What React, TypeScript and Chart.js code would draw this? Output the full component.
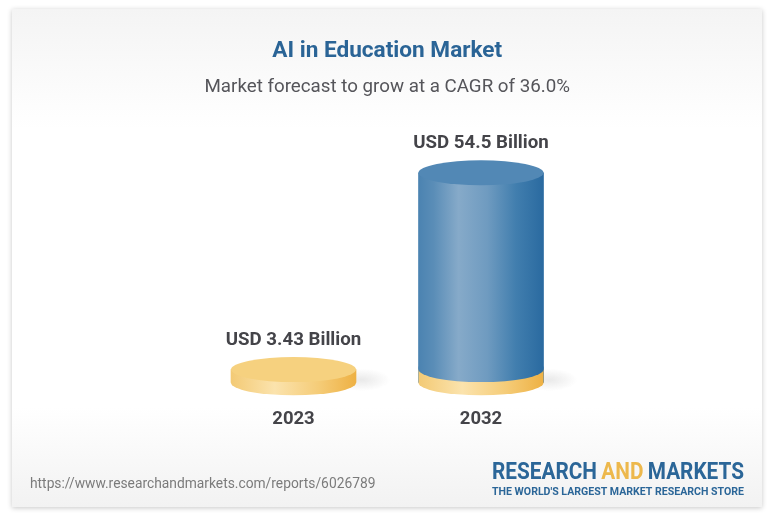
import React, { useEffect, useRef } from "react";
import { Chart, registerables } from "chart.js";

Chart.register(...registerables);

const categories = ["2023", "2032"];
const marketSize = [3.43, 54.5];
const baseBand = [3.43, 3.43];
const valueLabels = ["USD 3.43 Billion", "USD 54.5 Billion"];
const titleText = "AI in Education Market";
const subtitleText = "Market forecast to grow at a CAGR of 36.0%";
const sourceUrl = "https://www.researchandmarkets.com/reports/6026789";
const logoWords = ["RESEARCH", "AND", "MARKETS"];
const logoTagline = "THE WORLD'S LARGEST MARKET RESEARCH STORE";

const FONT = "Roboto, sans-serif";
const RY = 12.5;

function hGrad(ctx: CanvasRenderingContext2D, x0: number, x1: number, stops: [number, string][]) {
  const g = ctx.createLinearGradient(x0, 0, x1, 0);
  stops.forEach(([p, c]) => g.addColorStop(p, c));
  return g;
}
const blueStops: [number, string][] = [
  [0, "#4b83b1"],
  [0.12, "#5a8db7"],
  [0.32, "#86aac9"],
  [0.55, "#6f9bc0"],
  [0.78, "#417eae"],
  [1, "#2a6aa0"],
];
const goldStops: [number, string][] = [
  [0, "#f3ca75"],
  [0.35, "#fbe3ad"],
  [0.7, "#f5cc78"],
  [1, "#eeb144"],
];

const cylinderPlugin = {
  id: "cylinder",
  beforeDatasetsDraw(chart: any) {
    const { ctx } = chart;
    chart.getDatasetMeta(0).data.forEach((bar: any) => {
      const half = bar.width / 2;
      const cx = bar.x + half + 6;
      const cy = bar.base - 3;
      ctx.save();
      ctx.translate(cx, cy);
      ctx.scale(1, 0.4);
      const g = ctx.createRadialGradient(0, 0, 0, 0, 0, 28);
      g.addColorStop(0, "rgba(120,120,120,0.16)");
      g.addColorStop(1, "rgba(120,120,120,0)");
      ctx.fillStyle = g;
      ctx.beginPath();
      ctx.arc(0, 0, 28, 0, Math.PI * 2);
      ctx.fill();
      ctx.restore();
    });
  },
  afterDatasetsDraw(chart: any) {
    const { ctx, scales } = chart;
    const y = scales.y;
    chart.getDatasetMeta(0).data.forEach((bar: any, i: number) => {
      const half = bar.width / 2;
      const x0 = bar.x - half;
      const x1 = bar.x + half;
      const base = y.getPixelForValue(0);
      const bandTop = y.getPixelForValue(baseBand[i]);
      const top = y.getPixelForValue(marketSize[i]);
      const gold = hGrad(ctx, x0, x1, goldStops);
      const blue = hGrad(ctx, x0, x1, blueStops);
      // gold wall, rounded at the floor
      ctx.fillStyle = gold;
      ctx.beginPath();
      ctx.moveTo(x0, bandTop);
      ctx.lineTo(x0, base);
      ctx.ellipse(bar.x, base, half, RY, 0, Math.PI, 0, true);
      ctx.lineTo(x1, bandTop);
      ctx.closePath();
      ctx.fill();
      if (marketSize[i] > baseBand[i]) {
        ctx.fillStyle = blue;
        ctx.beginPath();
        ctx.moveTo(x1, bandTop - 3);
        ctx.lineTo(x1, bandTop);
        ctx.ellipse(bar.x, bandTop, half, RY, 0, 0, Math.PI);
        ctx.lineTo(x0, bandTop - 3);
        ctx.closePath();
        ctx.fill();
        ctx.fillStyle = "#5288b5";
      } else {
        ctx.fillStyle = "#f6d17f";
      }
      ctx.beginPath();
      ctx.ellipse(bar.x, top, half, RY, 0, 0, Math.PI * 2);
      ctx.fill();
      ctx.fillStyle = "#444449";
      ctx.font = `700 18.7px ${FONT}`;
      ctx.textAlign = "center";
      ctx.textBaseline = "middle";
      ctx.fillText(valueLabels[i], bar.x, top - RY - 17);
    });
  },
  afterDraw(chart: any) {
    const { ctx } = chart;
    ctx.save();
    ctx.textBaseline = "middle";
    ctx.textAlign = "left";
    ctx.fillStyle = "#7b7b7b";
    ctx.font = `400 13.8px ${FONT}`;
    ctx.fillText(sourceUrl, 30, 485);

    // logo: wordmark squeezed into its measured width
    ctx.font = `700 24px ${FONT}`;
    const gap = 5;
    const widths = logoWords.map((w) => ctx.measureText(w).width);
    const total = widths.reduce((a, b) => a + b, 0) + gap * 2;
    const sx = 252 / total;
    ctx.save();
    ctx.translate(492, 473);
    ctx.scale(sx, 1);
    let cursor = 0;
    logoWords.forEach((w, i) => {
      ctx.fillStyle = i === 1 ? "#edb84c" : "#2b6698";
      ctx.fillText(w, cursor, 0);
      cursor += widths[i] + gap;
    });
    ctx.restore();
    ctx.font = `700 10.5px ${FONT}`;
    const tw = ctx.measureText(logoTagline).width;
    ctx.save();
    ctx.translate(492, 492);
    ctx.scale(252 / tw, 1);
    ctx.fillStyle = "#2b6698";
    ctx.fillText(logoTagline, 0, 0);
    ctx.restore();
    ctx.restore();
  },
};

export default function App() {
  const ref = useRef<HTMLCanvasElement>(null);
  useEffect(() => {
    if (!ref.current) return;
    const chart = new Chart(ref.current, {
      type: "bar",
      data: {
        labels: categories,
        datasets: [
          {
            label: "Market size",
            data: marketSize,
            barThickness: 125,
            borderWidth: 0,
            backgroundColor: (c: any) => {
              const x = c.chart.scales.x;
              const px = x && c.dataIndex !== undefined ? x.getPixelForValue(c.dataIndex) : NaN;
              if (!Number.isFinite(px)) return "#4b83b1";
              return hGrad(
                c.chart.ctx,
                px - 62.5,
                px + 62.5,
                marketSize[c.dataIndex] > baseBand[c.dataIndex] ? blueStops : goldStops
              );
            },
          },
        ],
      },
      options: {
        responsive: false,
        animation: false,
        layout: { padding: { left: 199.75, right: 201.25, top: 0, bottom: 70 } },
        plugins: {
          legend: { display: false },
          tooltip: { enabled: false },
          title: {
            display: true,
            text: titleText,
            color: "#2a6496",
            font: { family: FONT, size: 22.6, weight: "bold" },
            padding: { top: 38, bottom: 11 },
          },
          subtitle: {
            display: true,
            text: subtitleText,
            color: "#55555a",
            font: { family: FONT, size: 18.75, weight: "normal" },
            padding: { top: 0, bottom: 53 },
          },
        },
        scales: {
          x: {
            grid: { display: false },
            border: { display: false },
            ticks: {
              color: "#444449",
              padding: 17,
              maxRotation: 0,
              font: { family: FONT, size: 18.5, weight: "bold" },
            },
          },
          y: { display: false, min: 0, max: 60 },
        },
      },
      plugins: [cylinderPlugin],
    } as any);
    return () => chart.destroy();
  }, []);
  return (
    <div style={{ position: "fixed", inset: 0, background: "#fff", overflow: "hidden" }}>
      <div
        style={{
          position: "absolute",
          left: 12,
          top: 9,
          width: 750,
          height: 498,
          boxShadow: "0 1px 5px rgba(0,0,0,0.22)",
          background:
            "linear-gradient(to bottom, #f4f4f4 0%, #ffffff 24%, #ffffff 80%, #f2f2f2 100%)",
        }}
      />
      <canvas
        ref={ref}
        width={776}
        height={517}
        style={{ position: "absolute", left: 0, top: 0, filter: "blur(0.4px)" }}
      />
    </div>
  );
}
